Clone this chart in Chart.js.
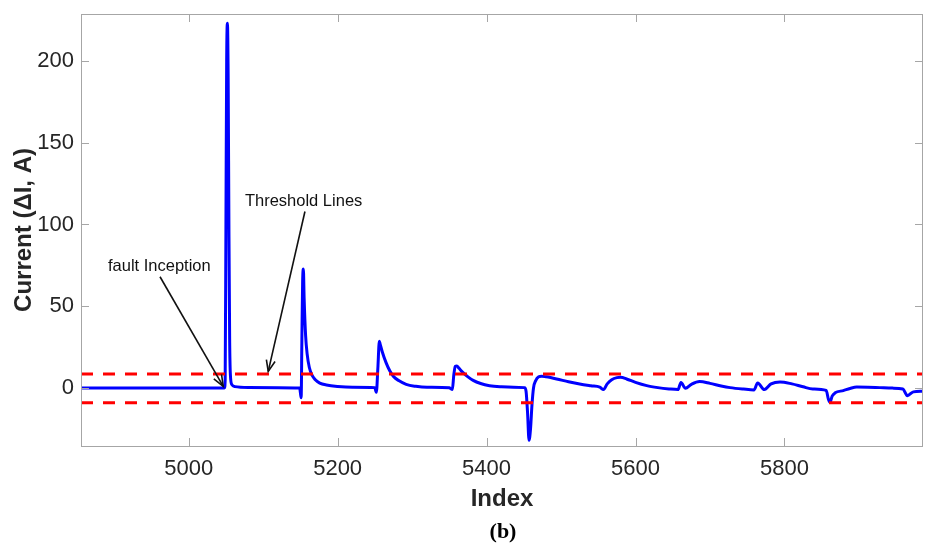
<!DOCTYPE html>
<html>
<head>
<meta charset="utf-8">
<script src="https://cdn.jsdelivr.net/npm/chart.js@4.4.1/dist/chart.umd.min.js"></script>
<style>
  html, body { margin: 0; padding: 0; background: #ffffff; }
  #wrap { width: 936px; height: 557px; }
</style>
</head>
<body>
<div id="wrap"><canvas id="c" width="936" height="557"></canvas></div>
<script>
// ---- data ----
const sampleIndex = [
  4855, 4950, 5048, 5049, 5050, 5051, 5052, 5053, 5054, 5055, 5056, 5058, 5062, 5080, 5149,
  5150, 5151, 5152, 5153, 5154, 5155, 5157, 5159, 5162, 5166, 5170, 5176, 5185, 5200, 5220, 5250,
  5251, 5252, 5254, 5256, 5257, 5260, 5265, 5270, 5275, 5282, 5292, 5305, 5320, 5350,
  5352, 5354, 5356, 5358, 5360, 5363, 5368, 5375, 5382, 5392, 5404, 5420, 5436, 5451,
  5453, 5455, 5457, 5459, 5461, 5463, 5466, 5470, 5474, 5480, 5494, 5510, 5525, 5540, 5552,
  5557, 5562, 5568, 5575, 5580, 5588, 5600, 5615, 5630, 5645, 5657, 5661, 5667, 5675, 5686,
  5700, 5715, 5727, 5745, 5759, 5764, 5773, 5782, 5794, 5810, 5825, 5838, 5856, 5859, 5861,
  5864, 5868, 5879, 5888, 5897, 5912, 5928, 5945, 5959, 5965, 5973, 5986
];
const currentDelta = [
  0, 0, 0, 5, 100, 200, 223, 190, 100, 30, 8, 2, 0.8, 0.3, 0,
  -3, -6, 30, 65, 72.7, 55, 32, 21, 12.5, 7.5, 5, 3, 1.8, 0.9, 0.4, 0.2,
  -1.5, -2.7, 12, 28.5, 27, 22, 15.5, 10.5, 7, 4.5, 2.2, 1, 0.4, 0.1,
  -0.5, -1, 8, 13.2, 13.5, 12, 9.5, 6.8, 4.6, 2.7, 1.4, 0.7, 0.4, 0.2,
  -2, -15, -32, -25, -10, 0, 4.5, 6.8, 7.2, 6.8, 5.5, 3.8, 2.4, 1.3, 0.5,
  -1, 2.5, 5, 6.3, 6.5, 5.5, 3.4, 1.4, 0.2, -0.6, -1, 3.4, -0.2, 2.2, 3.9,
  2.8, 1.2, 0.2, -0.7, -1.2, 3, -1, 2.5, 3.7, 2.5, 0.7, -0.6, -1.5, -7, -8.8,
  -5, -3, -1.6, -0.3, 0.6, 0.5, 0.2, -0.1, -0.6, -4.7, -2.4, -2
];
const thresholdUpper = 8.5;
const thresholdLower = -9;
const xRange = [4855.4, 5986];
const yRange = [-35.5, 228.7];
const xTicks = [5000, 5200, 5400, 5600, 5800];
const yTicks = [0, 50, 100, 150, 200];
const annotations = [
  { text: "fault Inception", textX: 4891.6, textY: 74.3, fromX: 4961.5, fromY: 68, toX: 5046.4, toY: 1 },
  { text: "Threshold Lines", textX: 5075.5, textY: 114, fromX: 5156.1, fromY: 107.9, toX: 5106.8, toY: 10.1 }
];
const caption = "(b)";

// ---- build chart ----
const mainSeries = sampleIndex.map((x, i) => ({ x: x, y: currentDelta[i] }));
const upperLine = xRange.map(x => ({ x: x, y: thresholdUpper }));
const lowerLine = xRange.map(x => ({ x: x, y: thresholdLower }));

const axisGray = '#a6a6a6';
const textColor = '#262626';

const framePlugin = {
  id: 'frame',
  afterDraw(chart) {
    const ctx = chart.ctx;
    const a = chart.chartArea;
    const xs = chart.scales.x, ys = chart.scales.y;
    ctx.save();
    ctx.strokeStyle = axisGray;
    ctx.lineWidth = 1;
    ctx.strokeRect(Math.round(a.left) + 0.5, Math.round(a.top) + 0.5,
                   Math.round(a.right - a.left) - 1, Math.round(a.bottom - a.top));
    const tl = 8;
    ctx.beginPath();
    xTicks.forEach(v => {
      const px = Math.round(xs.getPixelForValue(v)) + 0.5;
      ctx.moveTo(px, a.bottom); ctx.lineTo(px, a.bottom - tl);
      ctx.moveTo(px, a.top); ctx.lineTo(px, a.top + tl);
    });
    yTicks.forEach(v => {
      const py = Math.round(ys.getPixelForValue(v)) + 0.5;
      ctx.moveTo(a.left, py); ctx.lineTo(a.left + tl, py);
      ctx.moveTo(a.right, py); ctx.lineTo(a.right - tl, py);
    });
    ctx.stroke();

    // annotations
    ctx.fillStyle = '#111111';
    ctx.strokeStyle = '#111111';
    ctx.lineWidth = 1.6;
    ctx.font = '16.5px "Liberation Sans", Arial, sans-serif';
    ctx.textBaseline = 'middle';
    ctx.textAlign = 'left';
    annotations.forEach(an => {
      ctx.fillText(an.text, xs.getPixelForValue(an.textX), ys.getPixelForValue(an.textY));
      const x0 = xs.getPixelForValue(an.fromX), y0 = ys.getPixelForValue(an.fromY);
      const x1 = xs.getPixelForValue(an.toX), y1 = ys.getPixelForValue(an.toY);
      ctx.beginPath(); ctx.moveTo(x0, y0); ctx.lineTo(x1, y1); ctx.stroke();
      const ang = Math.atan2(y1 - y0, x1 - x0);
      const hl = 12, hw = 0.38;
      ctx.beginPath();
      ctx.moveTo(x1 - hl * Math.cos(ang - hw), y1 - hl * Math.sin(ang - hw));
      ctx.lineTo(x1, y1);
      ctx.lineTo(x1 - hl * Math.cos(ang + hw), y1 - hl * Math.sin(ang + hw));
      ctx.stroke();
    });

    // caption
    ctx.fillStyle = '#000000';
    ctx.font = 'bold 22px "Liberation Serif", "Times New Roman", serif';
    ctx.textAlign = 'center';
    ctx.textBaseline = 'middle';
    ctx.fillText(caption, (a.left + a.right) / 2 + 1, 532);
    ctx.restore();
  }
};

new Chart(document.getElementById('c'), {
  type: 'scatter',
  data: {
    datasets: [
      { data: upperLine, showLine: true, borderColor: '#ff0000', borderWidth: 3, borderDash: [12, 10],
        pointRadius: 0, order: 0 },
      { data: lowerLine, showLine: true, borderColor: '#ff0000', borderWidth: 3, borderDash: [12, 10],
        pointRadius: 0, order: 0 },
      { data: mainSeries, showLine: true, borderColor: '#0000ff', borderWidth: 3,
        cubicInterpolationMode: 'monotone', pointRadius: 0, order: 1 }
    ]
  },
  options: {
    responsive: false,
    animation: false,
    devicePixelRatio: 1,
    layout: { padding: { left: 0, right: 13, top: 14, bottom: 46 } },
    plugins: { legend: { display: false }, tooltip: { enabled: false } },
    scales: {
      x: {
        type: 'linear',
        min: xRange[0], max: xRange[1],
        afterBuildTicks: s => { s.ticks = xTicks.map(v => ({ value: v })); },
        afterFit: s => { s.height = 65; s.paddingLeft = 0; s.paddingRight = 0; },
        grid: { display: false, drawTicks: false },
        border: { display: false },
        ticks: { color: textColor, font: { family: '"Liberation Sans", Arial, sans-serif', size: 22 },
                 padding: 10, maxRotation: 0, callback: v => String(v) },
        title: { display: true, text: 'Index', color: textColor,
                 font: { family: '"Liberation Sans", Arial, sans-serif', size: 24, weight: 'bold', lineHeight: 1 },
                 padding: { top: 0, bottom: 0 } }
      },
      y: {
        type: 'linear',
        min: yRange[0], max: yRange[1],
        afterBuildTicks: s => { s.ticks = yTicks.map(v => ({ value: v })); },
        afterFit: s => { s.width = 81; s.paddingTop = 0; s.paddingBottom = 0; },
        grid: { display: false, drawTicks: false },
        border: { display: false },
        ticks: { color: textColor, font: { family: '"Liberation Sans", Arial, sans-serif', size: 22 },
                 padding: 7, callback: v => String(v) },
        title: { display: true, text: 'Current (ΔI, A)', color: textColor,
                 font: { family: '"Liberation Sans", Arial, sans-serif', size: 24, weight: 'bold', lineHeight: 1 },
                 padding: { top: 12, bottom: 0 } }
      }
    }
  },
  plugins: [framePlugin]
});
</script>
</body>
</html>
